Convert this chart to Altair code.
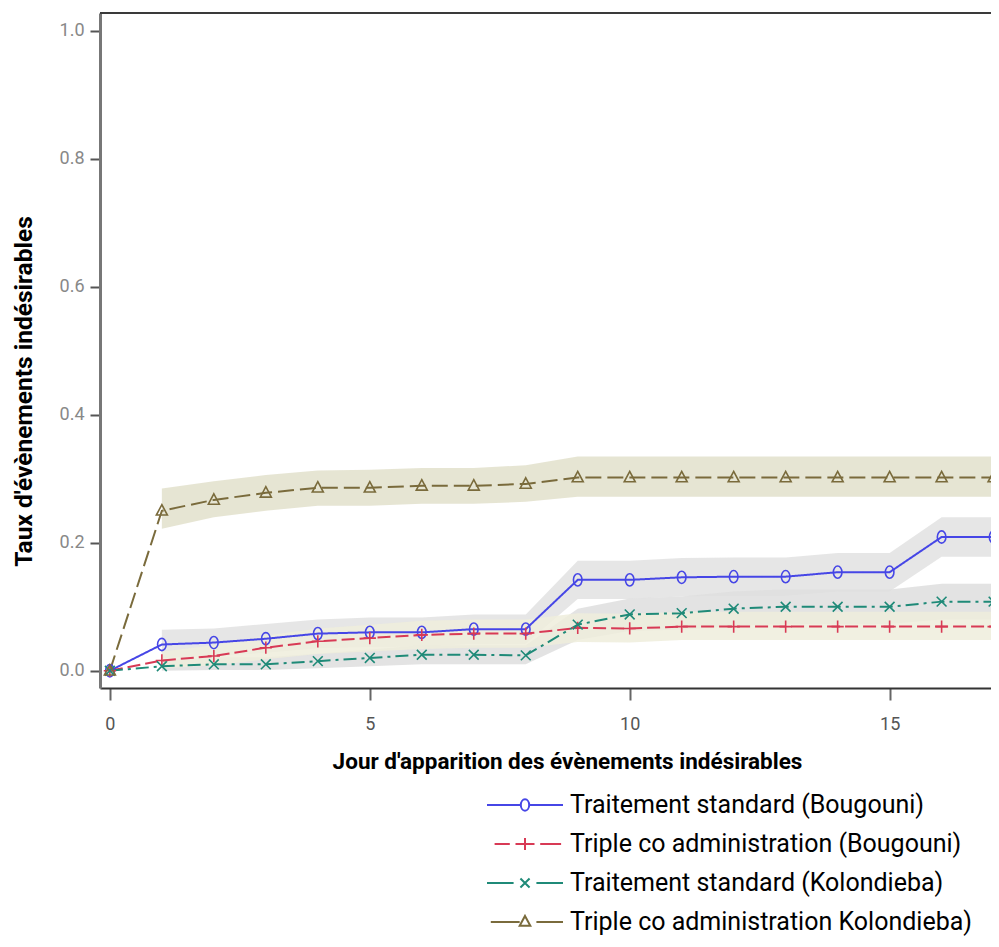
import altair as alt
import pandas as pd

# ---------------- data ----------------
days = list(range(18))
series = [
    "Traitement standard (Bougouni)",
    "Triple co administration (Bougouni)",
    "Traitement standard (Kolondieba)",
    "Triple co administration Kolondieba)",
]

ts_boug = [0, .041, .044, .050, .058, .060, .060, .065, .065, .142, .142, .146, .147, .147, .154, .154, .209, .209]
ts_boug_lo = [0, .020, .023, .028, .035, .037, .038, .042, .042, .112, .112, .116, .117, .117, .124, .124, .178, .178]
ts_boug_hi = [0, .064, .066, .073, .080, .083, .083, .088, .088, .172, .172, .176, .177, .177, .184, .184, .240, .240]

tc_boug = [0, .016, .023, .036, .046, .051, .056, .058, .058, .067, .066, .069, .069, .069, .069, .069, .069, .069]
tc_boug_lo = [0, .004, .008, .018, .026, .030, .034, .036, .036, .045, .044, .048, .048, .048, .048, .048, .048, .048]
tc_boug_hi = [0, .030, .040, .055, .066, .072, .078, .080, .080, .090, .089, .092, .092, .092, .092, .092, .092, .092]

ts_kolo = [0, .007, .010, .010, .015, .020, .025, .025, .024, .072, .088, .090, .097, .100, .100, .100, .108, .108]
ts_kolo_lo = [0, .000, .001, .001, .004, .007, .010, .010, .010, .048, .062, .064, .070, .073, .073, .073, .080, .080]
ts_kolo_hi = [0, .016, .021, .021, .027, .033, .040, .040, .040, .097, .113, .116, .124, .127, .127, .127, .136, .136]

tc_kolo = [0, .250, .267, .278, .286, .286, .289, .289, .292, .302, .302, .302, .302, .302, .302, .302, .302, .302]
tc_kolo_lo = [0, .222, .240, .250, .258, .258, .261, .261, .264, .272, .272, .272, .272, .272, .272, .272, .272, .272]
tc_kolo_hi = [0, .285, .296, .306, .313, .314, .317, .317, .321, .335, .335, .335, .335, .335, .335, .335, .335, .335]

x_ticks = [0, 5, 10, 15]
y_ticks = [0.0, 0.2, 0.4, 0.6, 0.8, 1.0]

# ---------------- styles ----------------
line_colors = ["#4646e6", "#d83a55", "#1f8a78", "#7a6b3c"]
band_colors = ["#e2e2e2", "#eeeddc", "#dedede", "#e2e0cb"]
band_order = [3, 0, 2, 1]
dashes = [[1, 0], [13, 5], [13, 5, 3, 5], [16, 6]]
marker_paths = [
    "M0.7,0A0.7,1 0 1,0 -0.7,0A0.7,1 0 1,0 0.7,0Z",
    "M-1,0H1M0,-1V1",
    "M-0.8,-0.8L0.8,0.8M-0.8,0.8L0.8,-0.8",
    "M0,-1L0.9,0.7H-0.9Z",
]
# legend glyphs: path units scaled by 19 px (symbolSize 38^2), span -2..2 = 76 px
legend_paths = [
    "M-2,0H-0.22M0.22,0H2M0.22,0A0.22,0.3 0 1,0 -0.22,0A0.22,0.3 0 1,0 0.22,0Z",
    "M-1.6,0H-0.8M-0.5,0H0.5M0,-0.32V0.32M0.8,0H1.9",
    "M-2,0H-0.6M0.6,0H2M-0.24,-0.24L0.24,0.24M-0.24,0.24L0.24,-0.24",
    "M-1.8,0H-0.28M0.6,0H2M0,-0.32L0.28,0.2H-0.28Z",
]

FONT = "Roboto"
W, H = 891, 675

rows = []
for name, est, lo, hi in zip(
    series,
    [ts_boug, tc_boug, ts_kolo, tc_kolo],
    [ts_boug_lo, tc_boug_lo, ts_kolo_lo, tc_kolo_lo],
    [ts_boug_hi, tc_boug_hi, ts_kolo_hi, tc_kolo_hi],
):
    for d, e, l, h in zip(days, est, lo, hi):
        rows.append({"serie": name, "jour": d, "taux": e, "bas": l, "haut": h})
df = pd.DataFrame(rows)

x_scale = alt.Scale(domain=[-0.19, 16.95], nice=False, zero=False)
y_scale = alt.Scale(domain=[-0.027, 1.028], nice=False, zero=False)

x_axis = alt.Axis(
    values=x_ticks, title="Jour d'apparition des évènements indésirables",
    titleFont=FONT, titleFontSize=22.5, titleFontWeight="bold", titleColor="black",
    titleX=467, titleY=80, titleAlign="center", titleBaseline="alphabetic",
    labelFont=FONT, labelFontSize=18, labelColor="#555555", labelPadding=15,
    tickSize=12, tickWidth=2, tickColor="#666666",
    domainColor="#333333", domainWidth=2, grid=False,
)
y_axis = alt.Axis(
    values=y_ticks, format=".1f", title="Taux d'évènements indésirables",
    titleFont=FONT, titleFontSize=24.5, titleFontWeight="bold", titleColor="black",
    titleAngle=270, titleX=-69, titleY=378, titleAlign="center", titleBaseline="alphabetic",
    labelFont=FONT, labelFontSize=18, labelColor="#888888", labelPadding=6,
    tickSize=10, tickWidth=2, tickColor="#555555",
    domainColor="#777777", domainWidth=3, grid=False,
)

X = alt.X("jour:Q", scale=x_scale, axis=x_axis)
Y = alt.Y("taux:Q", scale=y_scale, axis=y_axis)

base = alt.Chart(df)

band_layers = []
for i in band_order:
    band_layers.append(
        base.transform_filter((alt.datum.serie == series[i]) & (alt.datum.jour >= 1))
        .mark_area(opacity=0.85, color=band_colors[i], clip=True)
        .encode(x=X, y=alt.Y("bas:Q", scale=y_scale, axis=y_axis), y2="haut:Q")
    )

line_layers = []
point_layers = []
for name, col, dash, path in zip(series, line_colors, dashes, marker_paths):
    sub = base.transform_filter(alt.datum.serie == name)
    line_layers.append(
        sub.mark_line(strokeWidth=2, color=col, strokeDash=dash, clip=True).encode(x=X, y=Y)
    )
    point_layers.append(
        sub.mark_point(shape=path, size=150, filled=False, strokeWidth=1.6, color=col,
                       opacity=1, clip=True).encode(x=X, y=Y)
    )

leg = alt.Legend(
    title=None, orient="none", legendX=386, legendY=772, direction="vertical",
    symbolSize=1444, symbolStrokeWidth=2, symbolOffset=19, rowPadding=6,
    labelFont=FONT, labelFontSize=25, labelColor="black", labelOffset=25, labelLimit=600,
    padding=0,
)
legend_layer = base.transform_filter("datum.jour == 0").mark_point(opacity=0, filled=False).encode(
    x=X, y=Y,
    color=alt.Color("serie:N", scale=alt.Scale(domain=series, range=line_colors), legend=leg),
    shape=alt.Shape("serie:N", scale=alt.Scale(domain=series, range=legend_paths), legend=leg),
)

top_border = alt.Chart(pd.DataFrame({"a": [0]})).mark_rule(color="#3a3a3a", strokeWidth=2).encode(
    x=alt.value(0), x2=alt.value(W + 10), y=alt.value(0)
)

chart = alt.layer(*band_layers, *line_layers, *point_layers, legend_layer, top_border).properties(
    width=W, height=H,
    autosize=alt.AutoSizeParams(type="none"),
    padding={"left": 92, "top": 5, "right": 0, "bottom": 259},
).configure_view(stroke=None)

chart.save("out.html", embed_options={"renderer": "svg", "actions": False})
